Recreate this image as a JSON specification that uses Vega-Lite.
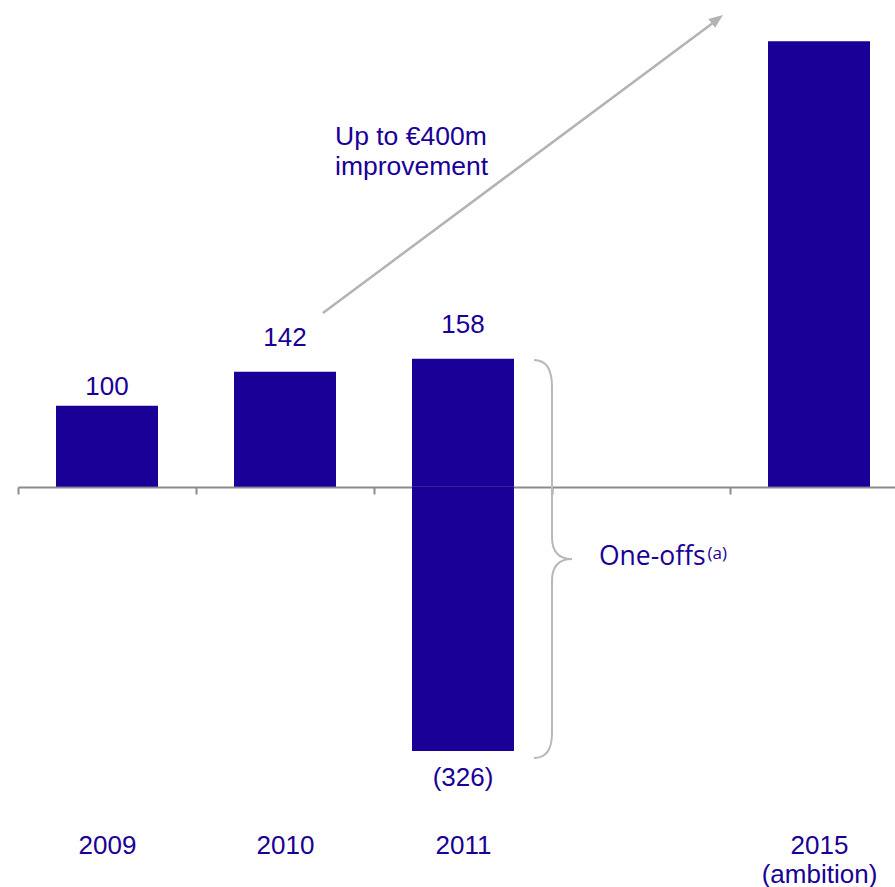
{
  "$schema": "https://vega.github.io/schema/vega-lite/v6.json",
  "width": 877,
  "height": 887,
  "autosize": "none",
  "padding": {"left": 18, "top": 0, "right": 0, "bottom": 0},
  "background": "white",
  "config": {"view": {"stroke": null}},
  "datasets": {
    "bars": [
      {"cat": "2009", "v": 100, "label": "100"},
      {"cat": "2010", "v": 142, "label": "142"},
      {"cat": "2011", "v": 158, "label": "158"},
      {"cat": "2011", "v": -326, "label": "(326)"},
      {"cat": "2015|(ambition)", "v": 550, "label": ""}
    ],
    "arrow": [{"x1": 1.713, "y1": 214.6, "x2": 3.9, "y2": 572}],
    "arrowhead": [{"x": 3.929, "y": 577.3}],
    "brace": [{"x": 3.0, "y": -89}],
    "note": [{"x": 1.781, "y": 422, "text": "Up to €400m\nimprovement"}],
    "oneoffs": [{"x": 3.264, "y": -96.5, "text": "One-offs"}],
    "sup": [{"x": 3.874, "y": -89, "text": "(a)"}]
  },
  "resolve": {"scale": {"x": "independent"}},
  "layer": [
    {
      "data": {"name": "bars"},
      "encoding": {
        "x": {
          "field": "cat", "type": "nominal", "sort": null,
          "scale": {"domain": ["2009", "2010", "2011", "gap", "2015|(ambition)"], "range": [0, 890], "paddingInner": 0, "paddingOuter": 0},
          "axis": {
            "title": null,
            "offset": -400,
            "tickBand": "extent",
            "domainColor": "#8c8c8c", "domainWidth": 2,
            "tickColor": "#8c8c8c", "tickWidth": 2, "tickSize": 7,
            "labelAngle": 0,
            "labelPadding": 359,
            "labelBaseline": "alphabetic",
            "labelFont": "Liberation Sans", "labelFontSize": 26, "labelColor": "#1a0096",
            "labelLineHeight": 29,
            "labelExpr": "isString(datum.value) && datum.value != 'gap' ? split(datum.value, '|') : ''"
          }
        },
        "y": {"field": "v", "type": "quantitative", "stack": null, "scale": {"domain": [-494, 601], "nice": false, "zero": false}, "axis": null}
      },
      "layer": [
        {"mark": {"type": "bar", "color": "#1a0096", "width": {"band": 0.573}}},
        {
          "transform": [{"filter": "datum.cat == '2009'"}],
          "mark": {"type": "text", "dy": -11, "baseline": "alphabetic", "font": "Liberation Sans", "fontSize": 26, "color": "#1a0096"},
          "encoding": {"text": {"field": "label"}}
        },
        {
          "transform": [{"filter": "(datum.cat == '2010' || datum.cat == '2011') && datum.v > 0"}],
          "mark": {"type": "text", "dy": -26, "baseline": "alphabetic", "font": "Liberation Sans", "fontSize": 26, "color": "#1a0096"},
          "encoding": {"text": {"field": "label"}}
        },
        {
          "transform": [{"filter": "datum.v < 0"}],
          "mark": {"type": "text", "dy": 35, "baseline": "alphabetic", "font": "Liberation Sans", "fontSize": 26, "color": "#1a0096"},
          "encoding": {"text": {"field": "label"}}
        }
      ]
    },
    {
      "encoding": {
        "x": {"field": "x", "type": "quantitative", "scale": {"domain": [0, 5], "range": [0, 890], "nice": false, "zero": false}, "axis": null},
        "y": {"field": "y", "type": "quantitative", "scale": {"domain": [-494, 601], "nice": false, "zero": false}, "axis": null}
      },
      "layer": [
        {
          "data": {"name": "arrow"},
          "mark": {"type": "rule", "color": "#b3b3b3", "strokeWidth": 2.5},
          "encoding": {
            "x": {"field": "x1", "type": "quantitative", "scale": {"domain": [0, 5], "range": [0, 890], "nice": false, "zero": false}, "axis": null},
            "y": {"field": "y1", "type": "quantitative", "scale": {"domain": [-494, 601], "nice": false, "zero": false}, "axis": null},
            "x2": {"field": "x2"},
            "y2": {"field": "y2"}
          }
        },
        {
          "data": {"name": "arrowhead"},
          "mark": {"type": "point", "shape": "M0,-1L0.8,1L-0.8,1Z", "size": 196, "angle": 53.3, "filled": true, "color": "#b3b3b3", "opacity": 1}
        },
        {
          "data": {"name": "brace"},
          "mark": {"type": "point", "shape": "M-0.09,-0.995Q0,-0.995 0,-0.86L0,-0.11Q0,0 0.1,0Q0,0 0,0.11L0,0.87Q0,0.995 -0.09,0.995", "size": 160000, "filled": false, "stroke": "#b8b8b8", "strokeWidth": 2, "opacity": 1}
        },
        {
          "data": {"name": "note"},
          "mark": {"type": "text", "align": "left", "baseline": "alphabetic", "lineBreak": "\n", "lineHeight": 30, "font": "Liberation Sans", "fontSize": 26.5, "color": "#1a0096"},
          "encoding": {"text": {"field": "text"}}
        },
        {
          "data": {"name": "oneoffs"},
          "mark": {"type": "text", "align": "left", "baseline": "alphabetic", "font": "Open Sans", "fontSize": 26.5, "color": "#1a0096"},
          "encoding": {"text": {"field": "text"}}
        },
        {
          "data": {"name": "sup"},
          "mark": {"type": "text", "align": "left", "baseline": "alphabetic", "font": "Open Sans", "fontSize": 17, "color": "#1a0096"},
          "encoding": {"text": {"field": "text"}}
        }
      ]
    }
  ]
}
